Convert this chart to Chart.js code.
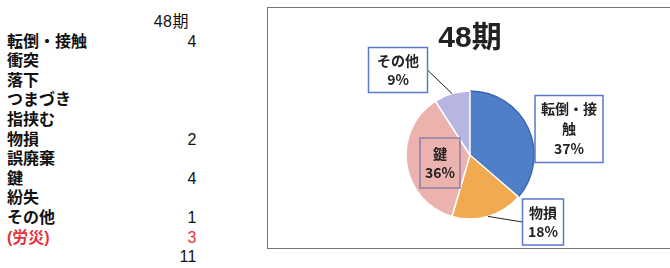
<!DOCTYPE html>
<html>
<head>
<meta charset="utf-8">
<script src="https://cdn.jsdelivr.net/npm/chart.js@4.4.1/dist/chart.umd.min.js"></script>
<style>
  body { margin: 0; width: 670px; height: 268px; overflow: hidden; background: #fff;
         font-family: "Liberation Sans", "Noto Sans CJK JP", sans-serif; }
  #table { position: absolute; left: 7px; top: 12px; width: 190px; font-size: 16px; color: #111; font-weight: 600; }
  .row { height: 19.6px; line-height: 19.6px; position: relative; white-space: nowrap; }
  .row .val { position: absolute; right: 0; top: 0; letter-spacing: 0.5px; font-weight: normal; }
  .row .val.head { right: 8px; }
  .row.red { color: #e2333c; }
  #box { position: absolute; left: 267px; top: 7px; width: 420px; height: 240px; border: 1px solid #777; }
  #chart { display: block; }
</style>
</head>
<body>
<div id="table"></div>
<div id="box"><canvas id="chart" width="420" height="240"></canvas></div>
<script>
// table on the left
var period = '48期';
var categories = ['転倒・接触', '衝突', '落下', 'つまづき', '指挟む', '物損', '誤廃棄', '鍵', '紛失', 'その他'];
var counts = [4, null, null, null, null, 2, null, 4, null, 1];
var rousaiLabel = '(労災)';
var rousaiCount = 3;
var totalCount = 11;

// pie (only the categories that have a count)
var pieLabels = ['転倒・接触', '物損', '鍵', 'その他'];
var pieValues = [4, 2, 4, 1];
var pieLabelLines = [['転倒・接', '触', '37%'], ['物損', '18%'], ['鍵', '36%'], ['その他', '9%']];
var pieColors = ['#4f7fc6', '#f2aa50', '#ecb2ad', '#b7b5e2'];
var pieBorders = ['#3c68b8', '#ffffff', '#ffffff', '#ffffff'];

// label box placement relative to pie centre: dx, dy, width, height, border colour, leader line
var boxPos = [
    { dx: 99, dy: -26, w: 68, h: 67, color: '#5a78cc', leader: false },
    { dx: 73, dy: 67, w: 41, h: 46, color: '#5a78cc', leader: true },
    { dx: -30, dy: 8, w: 40, h: 50, color: '#8c7fa6', leader: false },
    { dx: -72, dy: -85, w: 59, h: 45, color: '#5a78cc', leader: true }
];

function build_table() {
    var t = document.getElementById('table');
    var html = '<div class="row"><span class="val head">' + period + '</span></div>';
    for (var i = 0; i < categories.length; i++) {
        html += '<div class="row">' + categories[i] + '<span class="val">' + (counts[i] !== null ? counts[i] : '') + '</span></div>';
    }
    html += '<div class="row red">' + rousaiLabel + '<span class="val">' + rousaiCount + '</span></div>';
    html += '<div class="row"><span class="val">' + totalCount + '</span></div>';
    t.innerHTML = html;
}
build_table();

var labelPlugin = {
    id: 'boxLabels',
    afterDatasetsDraw(chart) {
        var ctx = chart.ctx;
        var arcs = chart.getDatasetMeta(0).data;
        var cx = arcs[0].x, cy = arcs[0].y;

        ctx.save();
        // title
        ctx.fillStyle = '#222';
        ctx.font = 'bold 30px "Liberation Sans", "Noto Sans CJK JP", sans-serif';
        ctx.textAlign = 'center';
        ctx.textBaseline = 'middle';
        ctx.fillText(period, cx, 31);

        for (var i = 0; i < arcs.length; i++) {
            var a = arcs[i];
            var p = boxPos[i];
            var bx = cx + p.dx - p.w / 2, by = cy + p.dy - p.h / 2;

            if (p.leader) {
                var mid = (a.startAngle + a.endAngle) / 2;
                var ex = cx + Math.cos(mid) * a.outerRadius;
                var ey = cy + Math.sin(mid) * a.outerRadius;
                var sx = ex < cx + p.dx ? bx : bx + p.w;
                var sy = cy + p.dy;
                ctx.strokeStyle = '#222';
                ctx.lineWidth = 1;
                ctx.beginPath();
                ctx.moveTo(ex, ey);
                ctx.lineTo(sx, sy);
                ctx.stroke();
            }

            if (i !== 2) {
                ctx.fillStyle = '#fff';
                ctx.fillRect(bx, by, p.w, p.h);
            }
            ctx.strokeStyle = p.color;
            ctx.lineWidth = 1.5;
            ctx.strokeRect(bx, by, p.w, p.h);

            var lines = pieLabelLines[i];
            var lh = lines.length > 2 ? 20 : 19;
            ctx.fillStyle = '#222';
            ctx.font = '600 14px "Noto Sans CJK JP", sans-serif';
            for (var j = 0; j < lines.length; j++) {
                ctx.fillText(lines[j], cx + p.dx, cy + p.dy + (j - (lines.length - 1) / 2) * lh);
            }
        }
        ctx.restore();
    }
};

var chart_ctx = document.getElementById('chart').getContext('2d');

var pie_chart = new Chart(chart_ctx, {
    type: 'pie',
    data: {
        labels: pieLabels,
        datasets: [{
            data: pieValues,
            backgroundColor: pieColors,
            borderColor: pieBorders,
            borderWidth: 1.5
        }]
    },
    options: {
        responsive: false,
        animation: false,
        radius: 64,
        layout: { padding: { left: 138, right: 154, top: 83, bottom: 29 } },
        plugins: {
            legend: { display: false },
            tooltip: { enabled: false }
        }
    },
    plugins: [labelPlugin]
});
</script>
</body>
</html>
